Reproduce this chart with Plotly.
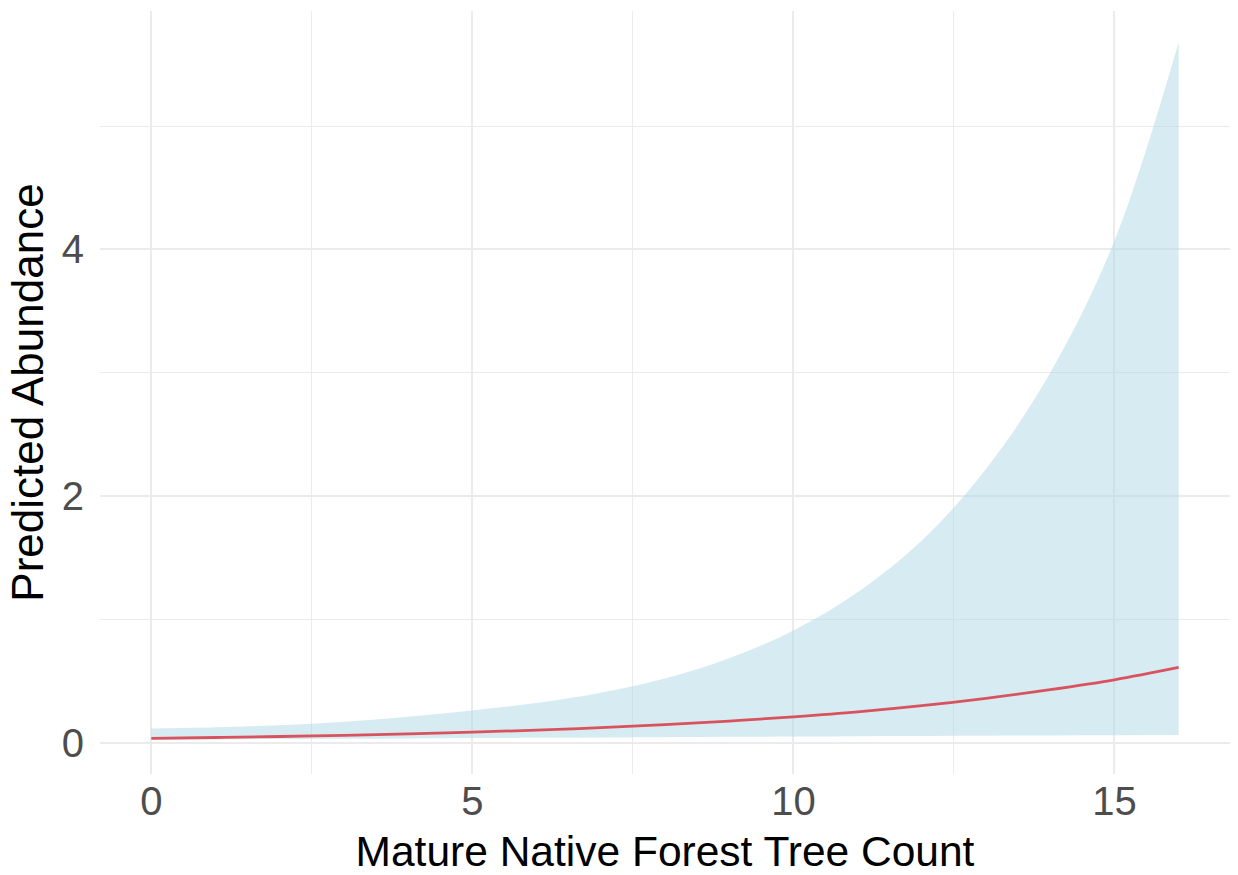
import plotly.graph_objects as go

# Data
tree_count = [0, 1, 2, 3, 4, 5, 6, 7, 8, 9, 10, 11, 12, 13, 14, 15, 16]
predicted = [0.035, 0.042, 0.050, 0.060, 0.071, 0.085, 0.102, 0.122, 0.146,
             0.175, 0.210, 0.250, 0.300, 0.360, 0.430, 0.510, 0.610]
upper_ci = [0.115, 0.125, 0.142, 0.170, 0.211, 0.262, 0.322, 0.405, 0.520,
            0.685, 0.910, 1.220, 1.640, 2.220, 3.000, 4.070, 5.680]
lower_ci = [0.025, 0.027, 0.029, 0.031, 0.034, 0.037, 0.040, 0.043, 0.045,
            0.048, 0.050, 0.053, 0.055, 0.057, 0.059, 0.061, 0.062]

x_ticks = [0, 5, 10, 15]
y_ticks = [0, 2, 4]

FONT = "Liberation Sans, Arial, sans-serif"
GRID = "#EBEBEB"

fig = go.Figure()
fig.add_trace(go.Scatter(x=tree_count, y=lower_ci, mode="lines",
                         line=dict(width=0, shape="spline", color="rgba(0,0,0,0)"),
                         showlegend=False, hoverinfo="skip"))
fig.add_trace(go.Scatter(x=tree_count, y=upper_ci, mode="lines",
                         line=dict(width=0, shape="spline", color="rgba(0,0,0,0)"),
                         fill="tonexty", fillcolor="rgba(173,216,230,0.5)",
                         showlegend=False, hoverinfo="skip"))
fig.add_trace(go.Scatter(x=tree_count, y=predicted, mode="lines",
                         line=dict(width=2.8, shape="spline", color="#D9535F"),
                         showlegend=False))

fig.update_layout(
    width=1238, height=875,
    margin=dict(l=100, r=8, t=11, b=101),
    paper_bgcolor="white", plot_bgcolor="white",
    font=dict(family=FONT),
    xaxis=dict(
        range=[-0.8, 16.8], tickvals=x_ticks, ticktext=[str(v) for v in x_ticks],
        automargin=False,
        showgrid=True, gridcolor=GRID, gridwidth=2, zeroline=False, showline=False,
        ticks="",
        tickfont=dict(size=40, color="#4D4D4D", family=FONT),
        minor=dict(tickvals=[2.5, 7.5, 12.5], showgrid=True, gridcolor=GRID, gridwidth=1.2),
        title=dict(text="Mature Native Forest Tree Count",
                   font=dict(size=42.5, color="black", family=FONT)),
    ),
    yaxis=dict(
        range=[-0.254, 5.934], tickvals=y_ticks, ticktext=[str(v) for v in y_ticks],
        automargin=False,
        showgrid=True, gridcolor=GRID, gridwidth=2, zeroline=False, showline=False,
        ticks="outside", ticklen=7, tickcolor="rgba(0,0,0,0)",
        tickfont=dict(size=40, color="#4D4D4D", family=FONT),
        minor=dict(tickvals=[1, 3, 5], showgrid=True, gridcolor=GRID, gridwidth=1.2),
        title=dict(text="Predicted Abundance", standoff=4,
                   font=dict(size=44, color="black", family=FONT)),
    ),
)

fig.write_html("out.html")
